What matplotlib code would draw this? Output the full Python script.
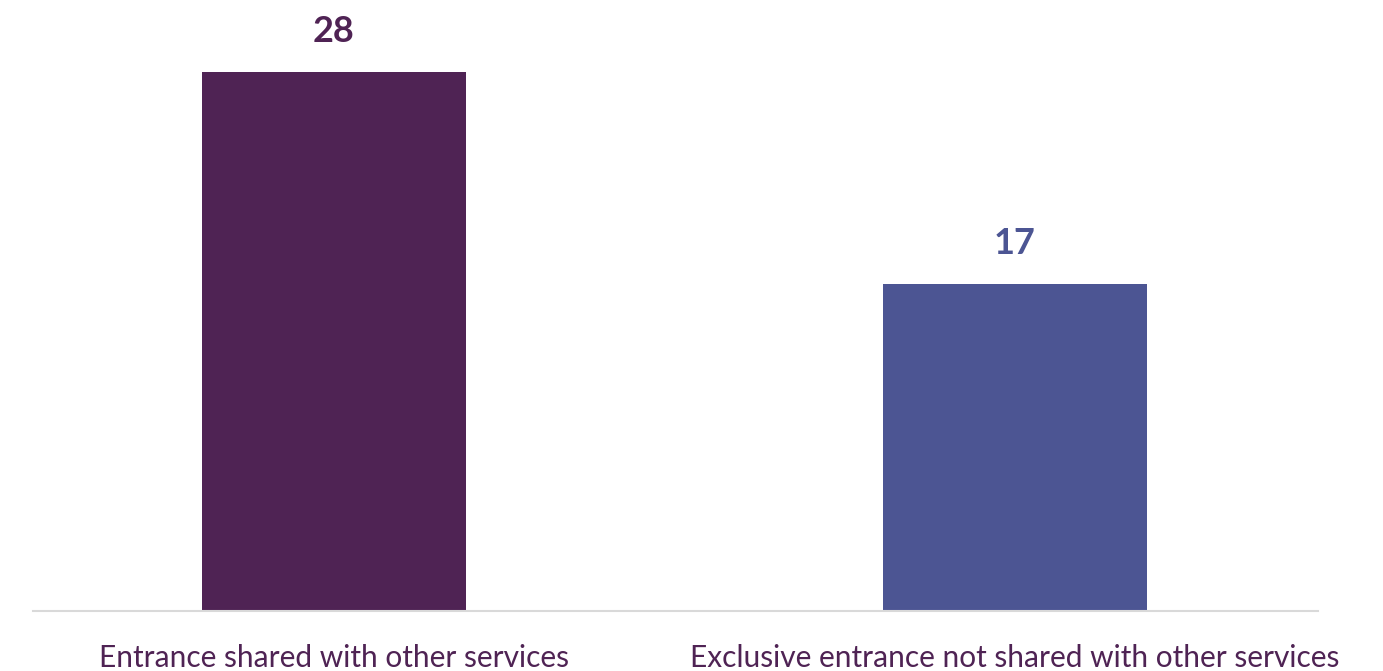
import matplotlib.pyplot as plt

# Entrance type counts
categories = ["Entrance shared with other services",
              "Exclusive entrance not shared with other services"]
counts = [28, 17]
colors = ["#4f2354", "#4c5593"]

plt.rcParams["font.family"] = ["Lato", "DejaVu Sans"]

fig = plt.figure(figsize=(13.83, 6.71), dpi=100)
ax = fig.add_axes([0.0239, 0.0894, 0.929, 0.9106])

x = range(len(categories))
bars = ax.bar(x, counts, width=0.388, color=colors, zorder=2)

for bar, val, col in zip(bars, counts, colors):
    ax.annotate(str(val), (bar.get_x() + bar.get_width() / 2, val),
                xytext=(0, 17), textcoords="offset points",
                ha="center", va="bottom", fontsize=26, fontweight="bold",
                color=col)

ax.set_xlim(-0.442, 1.445)
ax.set_ylim(0, 31.74)
ax.set_xticks(list(x))
ax.set_xticklabels(categories, fontsize=21.5, color="#4f2354")
ax.tick_params(axis="x", length=0, pad=24)
ax.set_yticks([])

for side in ["top", "left", "right"]:
    ax.spines[side].set_visible(False)
ax.spines["bottom"].set_color("#d9d9d9")
ax.spines["bottom"].set_linewidth(1.5)

fig.savefig("out.png", dpi=100, facecolor="white")
